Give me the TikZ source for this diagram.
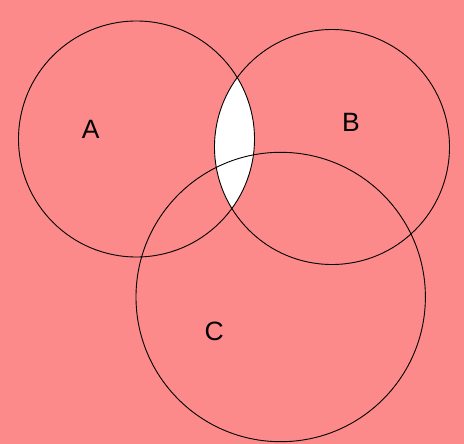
\documentclass[tikz,border=0pt]{standalone}
\usepackage{fontspec}
\setmainfont{Liberation Sans}
\definecolor{bgpink}{RGB}{253,138,138}
\tikzset{
  setcirc/.style={circle, draw=black, line width=0.9pt, inner sep=0pt},
  setlabel/.style={font=\fontsize{26.5}{30}\selectfont, text=black, inner sep=0pt}
}
\begin{document}
\begin{tikzpicture}[x=1pt,y=-1pt]
\fill[bgpink] (0,0) rectangle (464,444);
\useasboundingbox (0,0) rectangle (464,444);
% white intersection of A and B
\begin{scope}
  \clip (136.5,139) circle (118);
  \fill[white] (332,147) circle (117.5);
\end{scope}
\node[setcirc, minimum size=236pt] (A) at (136.5,139) {};
\node[setcirc, minimum size=235pt] (B) at (332,147) {};
\node[setcirc, minimum size=289.4pt] (C) at (280.7,297) {};
\node[setlabel] (la) at (90.7,129.3) {A};
\node[setlabel] (lb) at (351,122.2) {B};
\node[setlabel] (lc) at (214.3,331.7) {C};
\end{tikzpicture}
\end{document}
